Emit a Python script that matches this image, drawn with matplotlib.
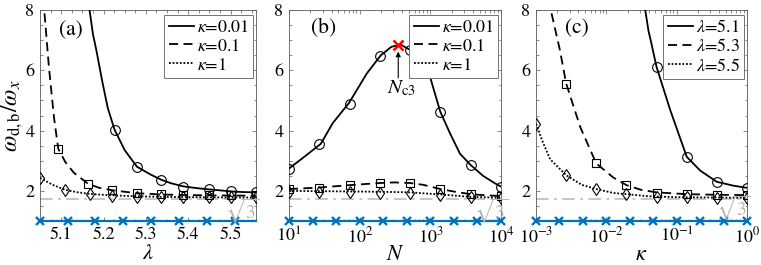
import numpy as np
import matplotlib
matplotlib.use("Agg")
import matplotlib.pyplot as plt
from matplotlib.ticker import NullFormatter, LogLocator, MultipleLocator

plt.rcParams['font.family'] = ['STIXGeneral', 'DejaVu Serif']
plt.rcParams['mathtext.fontset'] = 'stix'

# ---------------- Panel (a): vs lambda ----------------
lam_k001 = [5.160, 5.167, 5.175, 5.183, 5.198, 5.210, 5.226, 5.250, 5.279, 5.310, 5.336, 5.360, 5.388, 5.420, 5.448, 5.480, 5.502, 5.530, 5.560]
val_k001 = [9.50, 8.00, 7.20, 6.67, 5.56, 4.75, 4.03, 3.35, 2.80, 2.55, 2.37, 2.25, 2.15, 2.09, 2.05, 2.01, 1.98, 1.96, 1.95]
lam_k001_m = [5.226, 5.279, 5.336, 5.388, 5.448, 5.502, 5.560]
val_k001_m = [4.03, 2.80, 2.37, 2.14, 2.06, 1.98, 1.95]

lam_k01 = [5.056, 5.060, 5.071, 5.083, 5.093, 5.110, 5.130, 5.164, 5.190, 5.221, 5.279, 5.336, 5.390, 5.450, 5.560]
val_k01 = [9.00, 8.00, 6.11, 4.44, 3.40, 2.95, 2.60, 2.23, 2.10, 2.02, 1.92, 1.88, 1.86, 1.85, 1.84]
lam_k01_m = [5.093, 5.164, 5.221, 5.279, 5.336, 5.388, 5.448, 5.502, 5.560]
val_k01_m = [3.40, 2.23, 2.02, 1.92, 1.88, 1.87, 1.86, 1.85, 1.85]

lam_k1 = [5.050, 5.080, 5.110, 5.140, 5.167, 5.220, 5.280, 5.340, 5.400, 5.500, 5.560]
val_k1 = [2.43, 2.20, 2.03, 1.95, 1.90, 1.85, 1.82, 1.80, 1.79, 1.78, 1.78]
lam_k1_m = [5.050, 5.110, 5.167, 5.221, 5.279, 5.336, 5.388, 5.448, 5.502, 5.560]
val_k1_m = [2.43, 2.03, 1.90, 1.84, 1.81, 1.80, 1.79, 1.78, 1.78, 1.78]

lam_base = [5.050, 5.116, 5.181, 5.247, 5.313, 5.379, 5.444, 5.510]
lam_range = [5.05, 5.56]

# ---------------- Panel (b): vs N (log10 N) ----------------
logN_k001 = [1.00, 1.10, 1.20, 1.45, 1.62, 1.85, 2.10, 2.30, 2.45, 2.58, 2.72, 2.85, 3.00, 3.14, 3.28, 3.42, 3.57, 3.745, 3.90, 4.00]
valN_k001 = [2.74, 2.92, 3.10, 3.56, 4.25, 4.92, 5.89, 6.50, 6.78, 6.85, 6.67, 6.35, 5.75, 4.63, 3.90, 3.23, 2.86, 2.50, 2.27, 2.14]
logN_m = [1.000, 1.429, 1.857, 2.286, 2.714, 3.143, 3.571, 4.000]
valN_k001_m = [2.74, 3.56, 4.89, 6.47, 6.67, 4.63, 2.86, 2.14]

logN_k01 = [1.000, 1.429, 1.857, 2.286, 2.500, 2.714, 2.900, 3.143, 3.350, 3.571, 3.800, 4.000]
valN_k01 = [2.06, 2.11, 2.19, 2.26, 2.28, 2.26, 2.20, 2.06, 1.97, 1.89, 1.85, 1.83]
valN_k01_m = [2.06, 2.11, 2.19, 2.26, 2.26, 2.06, 1.89, 1.83]

logN_k1 = [1.000, 1.429, 1.857, 2.286, 2.714, 3.143, 3.571, 4.000]
valN_k1 = [2.00, 1.99, 1.98, 1.97, 1.95, 1.88, 1.80, 1.77]
valN_k1_m = [1.97, 1.95, 1.95, 1.94, 1.92, 1.85, 1.79, 1.75]

logN_base = [1.000, 1.333, 1.667, 2.000, 2.333, 2.667, 3.000, 3.333, 3.667, 4.000]
logN_c3 = 2.546
val_c3 = 6.83

# ---------------- Panel (c): vs kappa (log10 kappa) ----------------
logk_l51 = [-1.470, -1.447, -1.400, -1.360, -1.286, -1.090, -0.857, -0.664, -0.429, -0.190, 0.000]
valk_l51 = [8.60, 8.00, 7.30, 6.90, 6.11, 4.67, 3.13, 2.67, 2.30, 2.17, 2.10]
logk_l51_m = [-1.286, -0.857, -0.429, 0.000]
valk_l51_m = [6.11, 3.13, 2.30, 2.08]

logk_l53 = [-2.800, -2.790, -2.660, -2.571, -2.370, -2.143, -1.900, -1.714, -1.500, -1.286, -0.857, -0.429, 0.000]
valk_l53 = [8.40, 8.00, 6.67, 5.56, 4.11, 2.91, 2.44, 2.19, 2.03, 1.95, 1.89, 1.87, 1.86]
logk_l53_m = [-2.571, -2.143, -1.714, -1.286, -0.857, -0.429, 0.000]
valk_l53_m = [5.56, 2.91, 2.19, 1.94, 1.89, 1.87, 1.86]

logk_l55 = [-3.000, -2.900, -2.800, -2.571, -2.350, -2.143, -1.900, -1.714, -1.400, -1.000, 0.000]
valk_l55 = [4.22, 3.60, 3.05, 2.52, 2.20, 2.06, 1.93, 1.89, 1.82, 1.79, 1.77]
logk_l55_m = [-3.000, -2.571, -2.143, -1.714, -1.286, -0.857, -0.429, 0.000]
valk_l55_m = [4.22, 2.52, 2.06, 1.89, 1.80, 1.78, 1.77, 1.76]

logk_base = [-3.000, -2.667, -2.333, -2.000, -1.667, -1.333, -1.000, -0.667, -0.333, 0.000]

labels_a = [r'$\kappa$=0.01', r'$\kappa$=0.1', r'$\kappa$=1']
labels_c = [r'$\lambda$=5.1', r'$\lambda$=5.3', r'$\lambda$=5.5']
sqrt3 = np.sqrt(3)

BLUE = '#0072BD'
GRAY = '#C0C0C0'
SQ = '#B4B4B4'
SP = '0.35'
TICK_FS = 13
LAB_FS = 16

fig = plt.figure(figsize=(7.61, 2.65), dpi=100)
W, H = 761, 265
def add_ax(l, r):
    return fig.add_axes([l / W, (H - 221) / H, (r - l) / W, 211 / H])

axa = add_ax(40, 256)
axb = add_ax(289, 501)
axc = add_ax(536, 747)

def style(ax):
    for s in ax.spines.values():
        s.set_color(SP)
        s.set_linewidth(0.6)
    ax.tick_params(which='both', direction='in', top=True, right=True, color=SP,
                   labelsize=TICK_FS, width=0.5, pad=4)
    ax.tick_params(which='major', length=3)
    ax.tick_params(which='minor', length=1.8)
    ax.set_ylim(1, 8)
    ax.set_yticks([2, 4, 6, 8])

def common(ax, xbase, xr, label_x, lab_xy):
    ax.axhline(sqrt3, color=GRAY, lw=1.3, ls=(0, (7, 3, 1.5, 3)), zorder=1)
    ax.plot(xr, [1, 1], color=BLUE, lw=1.6, zorder=3, clip_on=False)
    ax.plot(xbase, np.ones(len(xbase)), ls='none', marker='x', color=BLUE,
            ms=6, mew=1.7, zorder=4, clip_on=False)
    ax.text(lab_xy[0], lab_xy[1], label_x, transform=ax.transAxes,
            fontsize=15.5, ha='center', va='center')

mk = dict(ls='none', mfc='none', mec='k', mew=0.8, zorder=5)
lkw = dict(color='k', lw=1.3, zorder=4)
dash = (0, (5, 3))
dot = (0, (1, 1))

def legend(ax, handles, labels):
    lg = ax.legend(handles, labels, loc='upper right', bbox_to_anchor=(1.0, 0.99),
                   fontsize=13, frameon=True, fancybox=False, framealpha=1,
                   handlelength=1.4, handletextpad=0.15, borderpad=0.25,
                   labelspacing=0.12, borderaxespad=0.15)
    lg.get_frame().set_edgecolor('0.45')
    lg.get_frame().set_linewidth(0.7)
    lg.set_zorder(10)

# ----- (a)
ax = axa
style(ax)
common(ax, lam_base, lam_range, '(a)', (0.145, 0.905))
l1, = ax.plot(lam_k001, val_k001, ls='-', **lkw)
l2, = ax.plot(lam_k01, val_k01, ls=dash, **lkw)
l3, = ax.plot(lam_k1, val_k1, ls=dot, **lkw)
ax.plot(lam_k001_m, val_k001_m, marker='o', ms=7, **mk)
ax.plot(lam_k01_m, val_k01_m, marker='s', ms=6, **mk)
ax.plot(lam_k1_m, val_k1_m, marker='d', ms=6.5, **mk)
ax.set_xlim(5.05, 5.56)
ax.set_xticks([5.1, 5.2, 5.3, 5.4, 5.5])
ax.xaxis.set_minor_locator(MultipleLocator(0.025))
ax.yaxis.set_minor_locator(MultipleLocator(0.5))
ax.text(5.528, 1.32, r'$\sqrt{3}$', color=SQ, fontsize=14, ha='center', va='center', zorder=8)
ax.set_xlabel(r'$\lambda$', fontsize=LAB_FS, labelpad=1)
ax.set_ylabel(r'$\omega_{\rm d,b}/\omega_x$', fontsize=17, labelpad=0)
legend(ax, [l1, l2, l3], labels_a)

# ----- (b)
ax = axb
style(ax)
Nb = np.power(10.0, logN_base)
common(ax, Nb, [10, 1e4], '(b)', (0.165, 0.912))
ax.set_xscale('log')
m1, = ax.plot(np.power(10.0, logN_k001), valN_k001, ls='-', **lkw)
m2, = ax.plot(np.power(10.0, logN_k01), valN_k01, ls=dash, **lkw)
m3, = ax.plot(np.power(10.0, logN_k1), valN_k1, ls=dot, **lkw)
Nm = np.power(10.0, logN_m)
ax.plot(Nm, valN_k001_m, marker='o', ms=7, **mk)
ax.plot(Nm, valN_k01_m, marker='s', ms=6, **mk)
ax.plot(Nm, valN_k1_m, marker='d', ms=6.5, **mk)
Nc3 = 10 ** logN_c3
ax.plot([Nc3], [val_c3], ls='none', marker='x', color='red', ms=7, mew=1.8, zorder=6)
ax.annotate('', xy=(Nc3, 6.62), xytext=(Nc3, 5.75),
            arrowprops=dict(arrowstyle='-|>', color='k', lw=0.8, mutation_scale=7,
                            shrinkA=0, shrinkB=0))
ax.text(Nc3 * 1.12, 5.72, r'$N_{\rm c3}$', fontsize=15, ha='center', va='top')
ax.set_xlim(10, 1e4)
ax.set_xticks([1e1, 1e2, 1e3, 1e4])
ax.set_xticklabels([r'$10^{1}$', r'$10^{2}$', r'$10^{3}$', r'$10^{4}$'])
ax.xaxis.set_minor_locator(LogLocator(base=10, subs=np.arange(2, 10), numticks=20))
ax.xaxis.set_minor_formatter(NullFormatter())
ax.yaxis.set_minor_locator(MultipleLocator(0.5))
ax.text(10 ** 3.86, 1.32, r'$\sqrt{3}$', color=SQ, fontsize=14, ha='center', va='center', zorder=8)
ax.set_xlabel(r'$N$', fontsize=LAB_FS, labelpad=-1)
legend(ax, [m1, m2, m3], labels_a)

# ----- (c)
ax = axc
style(ax)
kb = np.power(10.0, logk_base)
common(ax, kb, [1e-3, 1], '(c)', (0.195, 0.912))
ax.set_xscale('log')
n1, = ax.plot(np.power(10.0, logk_l51), valk_l51, ls='-', **lkw)
n2, = ax.plot(np.power(10.0, logk_l53), valk_l53, ls=dash, **lkw)
n3, = ax.plot(np.power(10.0, logk_l55), valk_l55, ls=dot, **lkw)
ax.plot(np.power(10.0, logk_l51_m), valk_l51_m, marker='o', ms=7, **mk)
ax.plot(np.power(10.0, logk_l53_m), valk_l53_m, marker='s', ms=6, **mk)
ax.plot(np.power(10.0, logk_l55_m), valk_l55_m, marker='d', ms=6.5, **mk)
ax.set_xlim(1e-3, 1)
ax.set_xticks([1e-3, 1e-2, 1e-1, 1e0])
ax.set_xticklabels([r'$10^{-3}$', r'$10^{-2}$', r'$10^{-1}$', r'$10^{0}$'])
ax.xaxis.set_minor_locator(LogLocator(base=10, subs=np.arange(2, 10), numticks=20))
ax.xaxis.set_minor_formatter(NullFormatter())
ax.yaxis.set_minor_locator(MultipleLocator(0.5))
ax.text(10 ** -0.2, 1.42, r'$\sqrt{3}$', color=SQ, fontsize=14, ha='center', va='center', zorder=8)
ax.set_xlabel(r'$\kappa$', fontsize=LAB_FS, labelpad=-1)
legend(ax, [n1, n2, n3], labels_c)

fig.savefig('out.png', dpi=100)
